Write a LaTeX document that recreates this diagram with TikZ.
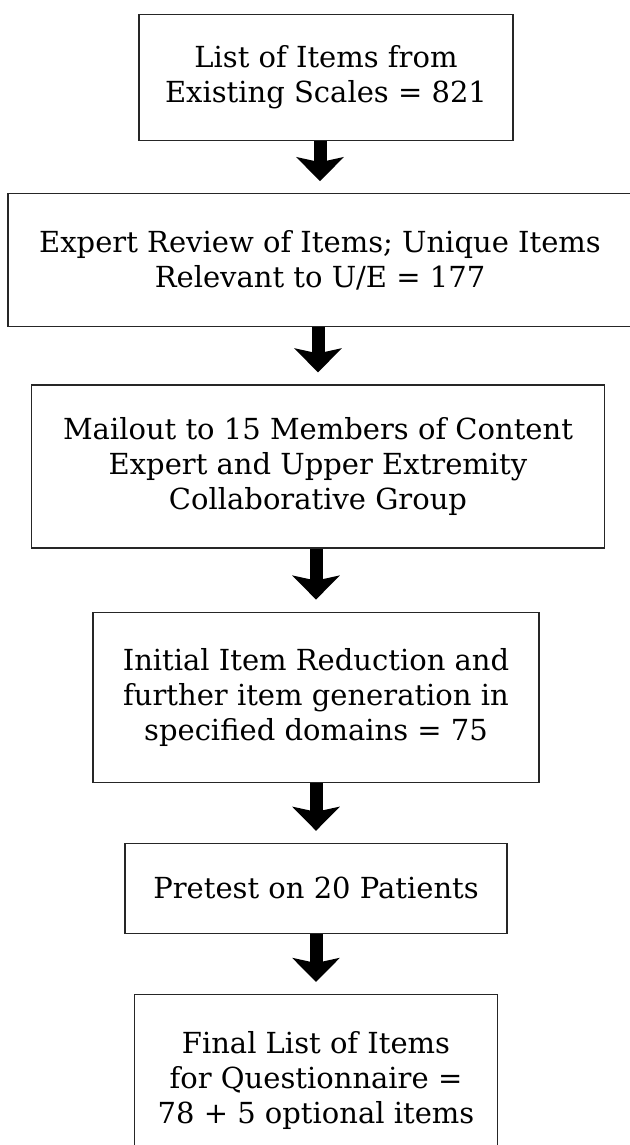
\documentclass[tikz,border=0pt]{standalone}
\usepackage{fontspec}
\setmainfont{DejaVu Serif}
\usetikzlibrary{positioning,arrows.meta}

\tikzset{
  stage/.style={draw=black!85, line width=0.6pt, align=center, inner sep=0pt,
    font=\fontsize{14.5}{17.5}\selectfont},
  flow/.style={line width=6.5pt, -{Stealth[length=12pt,width=23.5pt,inset=2.5pt]},
    shorten >=6pt}
}

\begin{document}
\begin{tikzpicture}[x=0.5pt,y=-0.5pt]
\useasboundingbox (0,0) rectangle (629,1145);

\node[stage, anchor=north, minimum width=187pt, minimum height=63pt] (Items) at (326,14)
  {List of Items from\\Existing Scales = 821};
\node[stage, below=26pt of Items, xshift=-3pt, minimum width=312pt, minimum height=66.5pt] (Review)
  {Expert Review of Items; Unique Items\\Relevant to U/E = 177};
\node[stage, below=28.5pt of Review, xshift=-1pt, minimum width=286.5pt, minimum height=81.5pt] (Mailout)
  {Mailout to 15 Members of Content\\Expert and Upper Extremity\\Collaborative Group};
\node[stage, below=31.5pt of Mailout, xshift=-1pt, minimum width=223pt, minimum height=85pt] (Reduction)
  {Initial Item Reduction and\\further item generation in\\specified domains = 75};
\node[stage, below=30pt of Reduction, minimum width=191pt, minimum height=45pt] (Pretest)
  {Pretest on 20 Patients};
\node[stage, below=30pt of Pretest, minimum width=181.5pt, minimum height=86pt] (Final)
  {Final List of Items\\for Questionnaire =\\78 + 5 optional items};

% arrows between the stages
\draw[flow] (Review.north |- Items.south) -- (Review.north);
\draw[flow] (Mailout.north |- Review.south) -- (Mailout.north);
\draw[flow] (Reduction.north |- Mailout.south) -- (Reduction.north);
\draw[flow] (Pretest.north |- Reduction.south) -- (Pretest.north);
\draw[flow] (Final.north |- Pretest.south) -- (Final.north);

\end{tikzpicture}
\end{document}
